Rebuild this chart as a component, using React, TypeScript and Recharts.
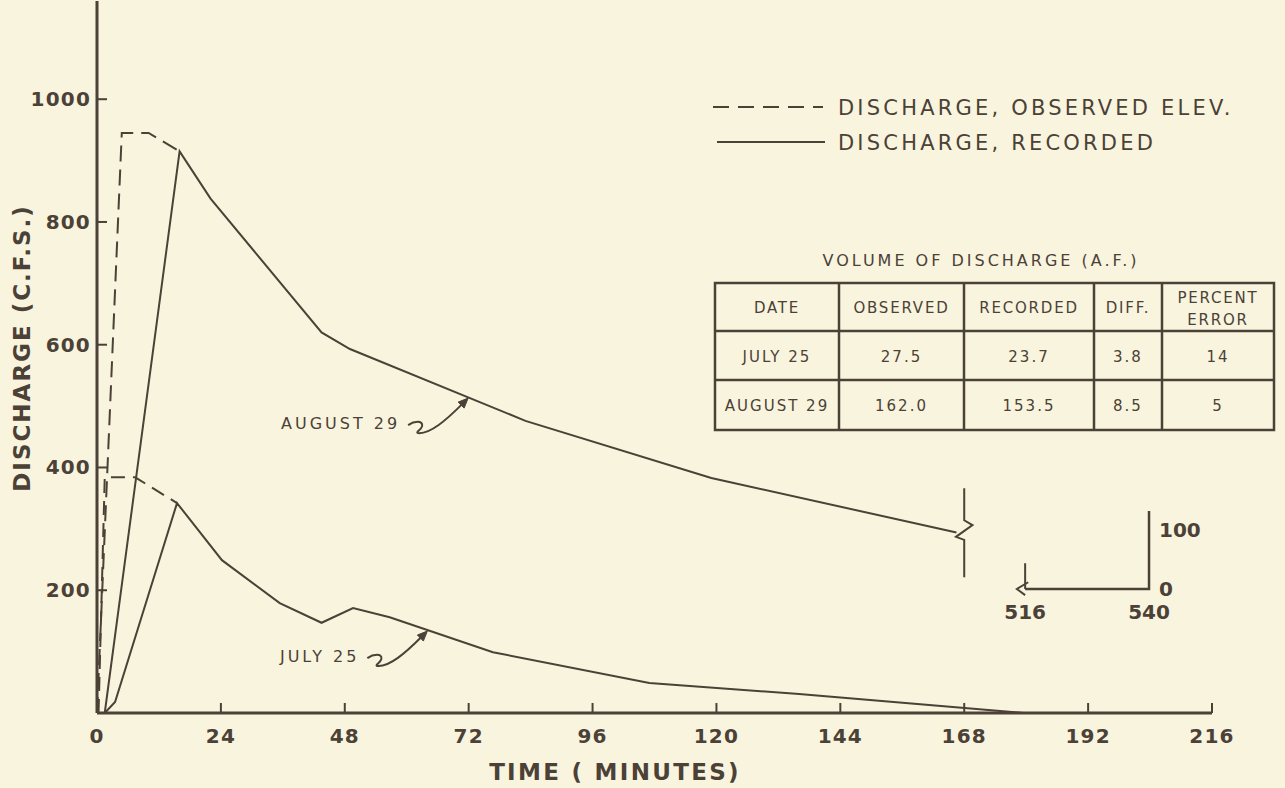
import React from 'react';
import { LineChart, Line, XAxis, YAxis, ReferenceDot, Customized } from 'recharts';

const INK = '#4b4137';
const BG = '#f9f4de';
const FONT = '"DejaVu Sans", "Liberation Sans", sans-serif';

// axis ticks
const xTicks = [0, 24, 48, 72, 96, 120, 144, 168, 192, 216];
const yTicks = [200, 400, 600, 800, 1000];

// August 29 hydrographs (time in minutes, discharge in c.f.s.)
const augObsT = [0, 4.8, 10, 16];
const augObsQ = [0, 945, 945, 915];
const augRecT = [1.5, 16, 22, 43.5, 49, 83, 119, 166.5];
const augRecQ = [0, 915, 838, 620, 593, 476, 383, 294];

// July 25 hydrographs
const julObsT = [0.3, 1.5, 7.4, 15.5];
const julObsQ = [0, 384, 384, 342];
const julRecT = [1.5, 3.5, 15.5, 24.2, 35.4, 43.5, 49.6, 56.7, 76.7, 107, 136, 179.5, 199];
const julRecQ = [0, 18, 342, 249, 179, 147, 171, 156, 99, 49, 31, 0, 0];

// axis-break marker on the August curve at 168 min
const breakT = [168, 168, 169.6, 166.4, 168, 168];
const breakQ = [366, 314, 306, 287, 282, 221];

// inset continuation 516-540 min, 0-100 c.f.s. (drawn offset onto the main scales)
const insetTimes = [516, 540];
const insetQs = [0, 100];
const INSET_T0 = 179.8; // main-axis time where 516 is drawn
const INSET_Q0 = 202;   // main-axis discharge where 0 is drawn
const insetAxisTop = 127;
const insetTickTop = 42;

// legend and table
const legendItems = ['DISCHARGE, OBSERVED ELEV.', 'DISCHARGE, RECORDED'];
const tableTitle = 'VOLUME OF DISCHARGE  (A.F.)';
const tableHeader = ['DATE', 'OBSERVED', 'RECORDED', 'DIFF.', 'PERCENT|ERROR'];
const tableRows = [
  ['JULY  25', '27.5', '23.7', '3.8', '14'],
  ['AUGUST 29', '162.0', '153.5', '8.5', '5'],
];

// curve annotations: label and the point on the curve they point to
const annotations = [
  { label: 'AUGUST  29', t: 71.9, q: 513 },
  { label: 'JULY  25', t: 64, q: 133.5 },
];

const toPts = (ts: number[], qs: number[]) => ts.map((t, i) => ({ t, q: qs[i] }));
const augObs = toPts(augObsT, augObsQ);
const augRec = toPts(augRecT, augRecQ);
const julObs = toPts(julObsT, julObsQ);
const julRec = toPts(julRecT, julRecQ);
const breakMark = toPts(breakT, breakQ);

const iT = (m: number) => INSET_T0 + (m - insetTimes[0]);
const iQ = (v: number) => INSET_Q0 + v;
const insetAxis = [
  { t: iT(insetTimes[1]), q: iQ(insetAxisTop) },
  { t: iT(insetTimes[1]), q: iQ(insetQs[0]) },
  { t: iT(insetTimes[0]), q: iQ(insetQs[0]) },
];
const insetTick = [
  { t: iT(insetTimes[0]), q: iQ(insetQs[0]) },
  { t: iT(insetTimes[0]), q: iQ(insetTickTop) },
];
const insetArrow = [
  { t: iT(insetTimes[0] + 0.6), q: iQ(11) },
  { t: iT(insetTimes[0] - 1.6), q: iQ(0) },
  { t: iT(insetTimes[0]), q: iQ(-10) },
];

const tickFont = { fill: INK, fontFamily: FONT, fontSize: 20, fontWeight: 'bold' as const, letterSpacing: 1.2 };

const XTick = (props: any) => {
  const { x, y, payload } = props;
  return (
    <g>
      {payload.value !== 0 && (
        <line x1={x} x2={x} y1={y} y2={y - 10} stroke={INK} strokeWidth={2} />
      )}
      <text x={x} y={y + 30} textAnchor="middle" {...tickFont}>
        {payload.value}
      </text>
    </g>
  );
};

const YTick = (props: any) => {
  const { x, y, payload } = props;
  return (
    <g>
      <line x1={x} x2={x + 10} y1={y} y2={y} stroke={INK} strokeWidth={2} />
      <text x={x - 6} y={y + 7} textAnchor="end" {...tickFont}>
        {payload.value}
      </text>
    </g>
  );
};

const AnnotShape = (label: string) => (props: any) => {
  const { cx, cy } = props;
  const p = (dx: number, dy: number) => `${cx + dx},${cy + dy}`;
  return (
    <g>
      <text x={cx - 68} y={cy + 31} textAnchor="end" fill={INK} fontFamily={FONT} fontSize={16} letterSpacing={3}>
        {label}
      </text>
      <path
        d={`M${p(-60, 27)} C${p(-54, 23)} ${p(-45, 22)} ${p(-46, 28)} C${p(-47, 32)} ${p(-53, 34)} ${p(-50, 35)} C${p(-38, 36)} ${p(-22, 22)} ${p(-6, 6)}`}
        fill="none"
        stroke={INK}
        strokeWidth={2}
      />
      <path d={`M${p(0, 0)} L${p(-10, 4)} L${p(-4, 10)} Z`} fill={INK} stroke={INK} strokeWidth={1} />
    </g>
  );
};

const Overlay = () => {
  const colX = [715, 839, 964, 1094, 1162, 1274];
  const rowY = [283, 331, 380, 430];
  const txt = { fill: INK, fontFamily: FONT } as const;
  return (
    <g>
      {/* axis titles */}
      <text x={615} y={780} textAnchor="middle" {...txt} fontSize={23} fontWeight="bold" letterSpacing={2.3}>
        TIME ( MINUTES)
      </text>
      <text
        x={0}
        y={0}
        transform="translate(30,348) rotate(-90)"
        textAnchor="middle"
        {...txt}
        fontSize={23}
        fontWeight="bold"
        letterSpacing={2}
      >
        DISCHARGE  (C.F.S.)
      </text>
      {/* legend */}
      <line x1={713} x2={823} y1={107} y2={107} stroke={INK} strokeWidth={2} strokeDasharray="16 9" />
      <line x1={717} x2={825} y1={142} y2={142} stroke={INK} strokeWidth={2} />
      <text x={838} y={115} {...txt} fontSize={21} letterSpacing={3.2}>{legendItems[0]}</text>
      <text x={838} y={150} {...txt} fontSize={21} letterSpacing={3.2}>{legendItems[1]}</text>
      {/* table */}
      <text x={981} y={266} textAnchor="middle" {...txt} fontSize={16} letterSpacing={3}>{tableTitle}</text>
      <rect x={colX[0]} y={rowY[0]} width={colX[5] - colX[0]} height={rowY[3] - rowY[0]} fill="none" stroke={INK} strokeWidth={2.5} />
      {rowY.slice(1, 3).map((y) => (
        <line key={'r' + y} x1={colX[0]} x2={colX[5]} y1={y} y2={y} stroke={INK} strokeWidth={2.5} />
      ))}
      {colX.slice(1, 5).map((x) => (
        <line key={'c' + x} x1={x} x2={x} y1={rowY[0]} y2={rowY[3]} stroke={INK} strokeWidth={2.5} />
      ))}
      {tableHeader.map((h, i) => {
        const cx = (colX[i] + colX[i + 1]) / 2;
        const parts = h.split('|');
        if (parts.length === 2) {
          return (
            <g key={h}>
              <text x={cx} y={303} textAnchor="middle" {...txt} fontSize={15} letterSpacing={1.8}>{parts[0]}</text>
              <text x={cx} y={325} textAnchor="middle" {...txt} fontSize={15} letterSpacing={1.8}>{parts[1]}</text>
            </g>
          );
        }
        return (
          <text key={h} x={cx} y={313} textAnchor="middle" {...txt} fontSize={15} letterSpacing={1.8}>{h}</text>
        );
      })}
      {tableRows.map((row, r) =>
        row.map((c, i) => {
          const cx = (colX[i] + colX[i + 1]) / 2;
          const cy = (rowY[r + 1] + rowY[r + 2]) / 2 + 6;
          return (
            <text key={r + '-' + i} x={cx} y={cy} textAnchor="middle" {...txt} fontSize={15} letterSpacing={2}>
              {c}
            </text>
          );
        })
      )}
    </g>
  );
};

const lineProps = {
  dataKey: 'q',
  stroke: INK,
  strokeWidth: 2,
  dot: false,
  activeDot: false,
  isAnimationActive: false,
  type: 'linear' as const,
  legendType: 'none' as const,
};

const insetLabel = { fill: INK, fontSize: 20, fontFamily: FONT, fontWeight: 'bold' };

export default function App() {
  return (
    <div style={{ position: 'absolute', left: 0, top: 0, width: 1285, height: 788, background: BG }}>
      <LineChart width={1285} height={788} margin={{ top: 1, right: 73, bottom: 0, left: 0 }}>
        <XAxis
          type="number"
          dataKey="t"
          domain={[0, 216]}
          ticks={xTicks}
          interval={0}
          height={75}
          tickSize={0}
          tickMargin={0}
          tickLine={false}
          axisLine={{ stroke: INK, strokeWidth: 3 }}
          tick={<XTick />}
          allowDataOverflow
        />
        <YAxis
          type="number"
          domain={[0, 1160]}
          ticks={yTicks}
          interval={0}
          width={97}
          tickSize={0}
          tickMargin={0}
          tickLine={false}
          axisLine={{ stroke: INK, strokeWidth: 3 }}
          tick={<YTick />}
          allowDataOverflow
        />
        <Line {...lineProps} data={augObs} strokeDasharray="16 8" />
        <Line {...lineProps} data={augRec} />
        <Line {...lineProps} data={julObs} strokeDasharray="14 8" />
        <Line {...lineProps} data={julRec} />
        <Line {...lineProps} data={breakMark} />
        <Line {...lineProps} data={insetAxis} strokeWidth={2.5} />
        <Line {...lineProps} data={insetTick} />
        <Line {...lineProps} data={insetArrow} />
        {annotations.map((a) => (
          <ReferenceDot key={a.label} x={a.t} y={a.q} r={0} shape={AnnotShape(a.label)} />
        ))}
        <ReferenceDot
          x={iT(insetTimes[0])}
          y={iQ(insetQs[0])}
          r={0}
          label={{ value: String(insetTimes[0]), position: 'bottom', offset: 16, ...insetLabel }}
        />
        <ReferenceDot
          x={iT(insetTimes[1])}
          y={iQ(insetQs[0])}
          r={0}
          label={{ value: String(insetTimes[1]), position: 'bottom', offset: 16, ...insetLabel }}
        />
        <ReferenceDot
          x={iT(insetTimes[1])}
          y={iQ(insetQs[0])}
          r={0}
          label={{ value: String(insetQs[0]), position: 'right', offset: 10, ...insetLabel }}
        />
        <ReferenceDot
          x={iT(insetTimes[1])}
          y={iQ(insetQs[1]) - 3}
          r={0}
          label={{ value: String(insetQs[1]), position: 'right', offset: 10, ...insetLabel }}
        />
        <Customized component={<Overlay />} />
      </LineChart>
    </div>
  );
}
